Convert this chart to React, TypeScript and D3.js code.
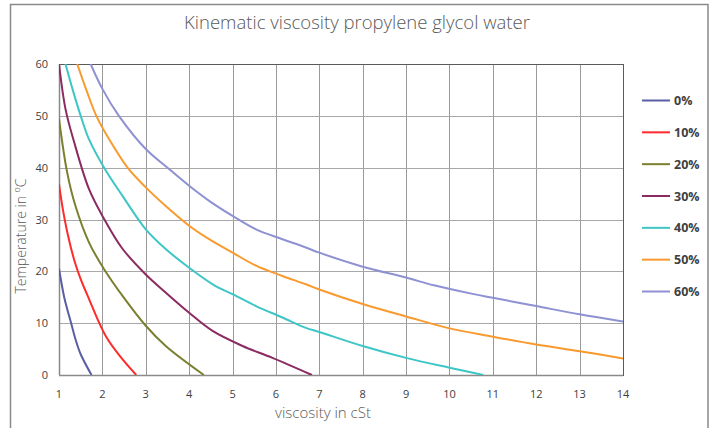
import React from "react";
import * as d3 from "d3";

type Pt = [number, number];

const seriesNames = ["0%", "10%", "20%", "30%", "40%", "50%", "60%"];
const seriesColors = ["#5a5fa3", "#ff2a2a", "#7a8030", "#8b2b61", "#3ec6c6", "#f99a2e", "#8e91d2"];

// [viscosity cSt, temperature °C]
const pg0: Pt[] = [[1.75, 0], [1.5, 4], [1.38, 6.9], [1.28, 10], [1.19, 12.7], [1.12, 15], [1.0, 20.5]];
const pg10: Pt[] = [[2.78, 0], [2.4, 3.7], [2.1, 7.2], [1.93, 10], [1.7, 14.5], [1.5, 18.5], [1.35, 22.2], [1.2, 27.2], [1.08, 32.4], [1.0, 36.8]];
const pg20: Pt[] = [[4.34, 0], [3.46, 5.6], [3.0, 9.5], [2.46, 15.3], [2.04, 20.4], [1.69, 25.6], [1.38, 32.6], [1.19, 39], [1.0, 49.4]];
const pg30: Pt[] = [[6.83, 0], [5.92, 3.3], [5.23, 5.6], [4.54, 8.5], [4.0, 12.0], [3.46, 15.9], [3.0, 19.4], [2.45, 24.5], [2.04, 30.1], [1.69, 35.9], [1.35, 44.9], [1.15, 51.3], [1.0, 60]];
const pg40: Pt[] = [[10.78, 0], [10.0, 1.4], [9.0, 3.3], [8.0, 5.6], [7.0, 8.3], [6.69, 9.1], [6.15, 11.1], [5.54, 13.3], [5.0, 15.6], [4.6, 17.2], [4.0, 20.7], [3.46, 24.3], [3.0, 28.1], [2.46, 34.6], [2.04, 40], [1.69, 45.5], [1.5, 50], [1.31, 55.2], [1.15, 60]];
const pg50: Pt[] = [[14.0, 3.2], [13.0, 4.6], [12.0, 5.9], [11.0, 7.4], [10.0, 9.0], [9.0, 11.3], [8.0, 13.7], [7.0, 16.5], [6.69, 17.5], [6.15, 19.1], [5.54, 21.1], [5.0, 23.6], [4.46, 26.2], [4.0, 28.8], [3.46, 32.6], [3.0, 36.2], [2.58, 40], [2.19, 45], [1.86, 50], [1.63, 55], [1.42, 60]];
const pg60: Pt[] = [[14.0, 10.3], [13.0, 11.7], [12.0, 13.3], [11.0, 14.9], [10.56, 15.6], [9.64, 17.3], [9.0, 18.8], [8.0, 20.9], [7.0, 23.6], [6.69, 24.6], [6.15, 26.2], [5.54, 28.1], [5.0, 30.7], [4.46, 33.6], [4.0, 36.5], [3.5, 40], [3.0, 43.6], [2.38, 50], [2.0, 55.2], [1.73, 60]];
const seriesData = [pg0, pg10, pg20, pg30, pg40, pg50, pg60];

const xTicks = d3.range(1, 15);
const yTicks = [0, 10, 20, 30, 40, 50, 60];

const W = 714, H = 428;
const left = 59, right = 623, top = 64, bottom = 375;

export default function App() {
  const x = d3.scaleLinear().domain([1, 14]).range([left, right]);
  const y = d3.scaleLinear().domain([0, 60]).range([bottom, top]);
  const line = d3.line<Pt>().x(d => x(d[0])).y(d => y(d[1])).curve(d3.curveCatmullRom.alpha(0.5));
  const font = "'Open Sans', 'Noto Sans', sans-serif";
  const legendY = d3.scaleLinear().domain([0, 6]).range([100.5, 291.5]);
  return (
    <svg width={W} height={H} style={{ position: "absolute", left: 0, top: 0, background: "#fff" }}>
      <defs>
        <clipPath id="plotclip">
          <rect x={left} y={top} width={right - left} height={bottom - top} />
        </clipPath>
      </defs>
      <rect x={10.5} y={4.5} width={697.5} height={440} fill="none" stroke="#8a8a8a" strokeWidth={1.5} />
      <text x={357} y={29} textAnchor="middle" fontFamily={font} fontSize={18.5} fontWeight={300} fill="#595959">
        Kinematic viscosity propylene glycol water
      </text>
      {xTicks.map(t => (
        <line key={"vx" + t} x1={Math.round(x(t)) + 0.5} x2={Math.round(x(t)) + 0.5} y1={top} y2={bottom} stroke="#9a9a9a" strokeWidth={1} />
      ))}
      {yTicks.map(t => (
        <line key={"hy" + t} x1={left} x2={right} y1={Math.round(y(t)) + 0.5} y2={Math.round(y(t)) + 0.5} stroke="#a8a8a8" strokeWidth={1} />
      ))}
      <rect x={left + 0.5} y={top + 0.5} width={right - left} height={bottom - top} fill="none" stroke="#5a5a5a" strokeWidth={1} />
      <line x1={left} x2={right} y1={bottom + 0.5} y2={bottom + 0.5} stroke="#8a8a8a" strokeWidth={1.5} />
      <line x1={left + 0.5} x2={left + 0.5} y1={top} y2={bottom} stroke="#8a8a8a" strokeWidth={1.5} />
      <g clipPath="url(#plotclip)">
        {seriesData.map((s, i) => (
          <path key={i} d={line(s) || ""} fill="none" stroke={seriesColors[i]} strokeWidth={2} />
        ))}
      </g>
      {xTicks.map(t => (
        <text key={"tx" + t} x={x(t)} y={398} textAnchor="middle" fontFamily={font} fontSize={11} fill="#404040">{t}</text>
      ))}
      {yTicks.map(t => (
        <text key={"ty" + t} x={48} y={y(t) + 4} textAnchor="end" fontFamily={font} fontSize={11} fill="#404040">{t}</text>
      ))}
      <text x={323} y={418} textAnchor="middle" fontFamily={font} fontSize={15} fontWeight={300} fill="#595959">viscosity in cSt</text>
      <text transform={`translate(26,236) rotate(-90)`} textAnchor="middle" fontFamily={font} fontSize={14} fontWeight={300} fill="#595959">
        Temperature in <tspan fontSize={9} dy={-6}>o</tspan><tspan dy={6}>C</tspan>
      </text>
      {seriesNames.map((n, i) => (
        <g key={n}>
          <line x1={642} x2={670} y1={legendY(i)} y2={legendY(i)} stroke={seriesColors[i]} strokeWidth={2} />
          <text x={674} y={legendY(i) + 4.5} fontFamily={font} fontSize={12.5} fontWeight={700} fill="#404040">{n}</text>
        </g>
      ))}
    </svg>
  );
}
